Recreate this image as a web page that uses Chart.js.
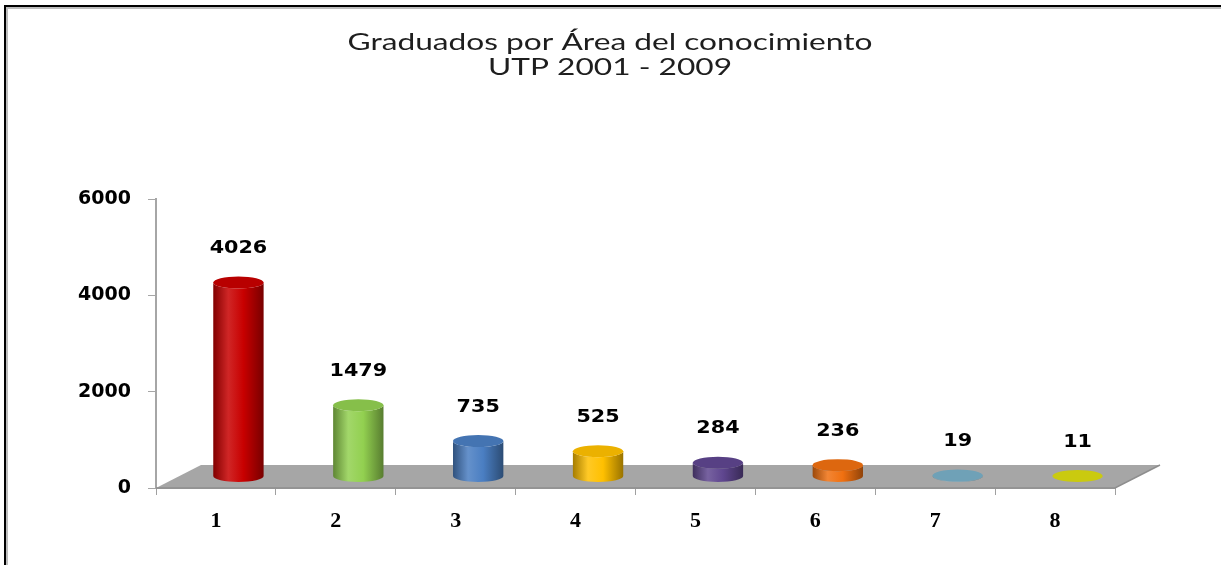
<!DOCTYPE html>
<html>
<head>
<meta charset="utf-8">
<title>Graduados por Área del conocimiento</title>
<script src="https://cdn.jsdelivr.net/npm/chart.js@4.4.1/dist/chart.umd.min.js"></script>
<style>
  html, body { margin: 0; padding: 0; background: #fff; overflow: hidden; }
  #marco { position: absolute; left: 0; top: 0; width: 1221px; height: 565px; }
  #marco canvas { position: absolute; left: 0; top: 0; }
  #borde {
    position: absolute; left: 4px; top: 5px; width: 1300px; height: 700px;
    border-top: 2px solid #000; border-left: 2px solid #000;
    box-shadow: inset 2px 2px 0 #bdbdbd;
  }
</style>
</head>
<body>
<div id="marco">
  <canvas id="grafico" width="1221" height="565"></canvas>
  <div id="borde"></div>
</div>
<script>
// Datos del gráfico
const categorias = ['1', '2', '3', '4', '5', '6', '7', '8'];
const graduados = [4026, 1479, 735, 525, 284, 236, 19, 11];
const ticksY = [0, 2000, 4000, 6000];
const titulo = ['Graduados por Área del conocimiento', 'UTP 2001 - 2009'];

// Colores de cada cilindro
const colores = ['#c80000', '#92d050', '#4a7ec2', '#ffc000', '#5f468f', '#f07010', '#79afc7', '#dcdc10'];

// profundidad del "piso" 3D
const PISO_DX = 45;
const PISO_DY = 23;

function tono(hex, f) {
  const n = parseInt(hex.slice(1), 16);
  let r = (n >> 16) & 255, g = (n >> 8) & 255, b = n & 255;
  if (f >= 0) {
    r += (255 - r) * f; g += (255 - g) * f; b += (255 - b) * f;
  } else {
    r *= 1 + f; g *= 1 + f; b *= 1 + f;
  }
  return `rgb(${Math.round(r)},${Math.round(g)},${Math.round(b)})`;
}

// texto "estirado" a lo ancho, como en la imagen original
function textoAncho(ctx, texto, x, y, sx) {
  ctx.save();
  ctx.translate(x, y);
  ctx.scale(sx, 1);
  ctx.fillText(texto, 0, 0);
  ctx.restore();
}

const tituloEstirado = {
  id: 'tituloEstirado',
  afterDraw(chart) {
    const { ctx } = chart;
    ctx.save();
    ctx.fillStyle = '#1e1e1e';
    ctx.font = '23px Lato';
    ctx.textAlign = 'center';
    ctx.textBaseline = 'middle';
    const sx = 525 / ctx.measureText(titulo[0]).width;
    titulo.forEach((linea, i) => textoAncho(ctx, linea, 610, 43 + i * 25, sx));
    ctx.restore();
  }
};

const cilindros3d = {
  id: 'cilindros3d',
  beforeDatasetsDraw(chart) {
    const { ctx, chartArea } = chart;
    const { left, right, bottom } = chartArea;
    ctx.save();
    ctx.fillStyle = '#a6a6a6';
    ctx.beginPath();
    ctx.moveTo(left, bottom);
    ctx.lineTo(right, bottom);
    ctx.lineTo(right + PISO_DX, bottom - PISO_DY);
    ctx.lineTo(left + PISO_DX, bottom - PISO_DY);
    ctx.closePath();
    ctx.fill();
    ctx.strokeStyle = '#8e8e8e';
    ctx.lineWidth = 1.5;
    ctx.beginPath();
    ctx.moveTo(left, bottom);
    ctx.lineTo(right, bottom);
    ctx.lineTo(right + PISO_DX, bottom - PISO_DY);
    ctx.stroke();
    ctx.restore();
  },
  afterDatasetsDraw(chart) {
    const { ctx } = chart;
    const meta = chart.getDatasetMeta(0);
    ctx.save();
    meta.data.forEach((el, i) => {
      const base = colores[i];
      const cx = el.x + PISO_DX / 2;
      const rx = el.width / 2;
      const ry = 6;
      const yTop = el.y - PISO_DY / 2;
      const yBot = el.base - PISO_DY / 2;

      const grad = ctx.createLinearGradient(cx - rx, 0, cx + rx, 0);
      grad.addColorStop(0, tono(base, -0.35));
      grad.addColorStop(0.3, tono(base, 0.15));
      grad.addColorStop(0.6, base);
      grad.addColorStop(1, tono(base, -0.4));

      ctx.fillStyle = grad;
      ctx.beginPath();
      ctx.moveTo(cx - rx, yTop);
      ctx.lineTo(cx - rx, yBot);
      ctx.ellipse(cx, yBot, rx, ry, 0, Math.PI, 0, true);
      ctx.lineTo(cx + rx, yTop);
      ctx.ellipse(cx, yTop, rx, ry, 0, 0, Math.PI, false);
      ctx.closePath();
      ctx.fill();

      // tapa superior
      ctx.fillStyle = tono(base, -0.08);
      ctx.beginPath();
      ctx.ellipse(cx, yTop, rx, ry, 0, 0, Math.PI * 2);
      ctx.fill();

      // etiqueta con el valor
      ctx.fillStyle = '#000';
      ctx.font = 'bold 18px "DejaVu Sans"';
      ctx.textAlign = 'center';
      ctx.textBaseline = 'middle';
      textoAncho(ctx, String(graduados[i]), cx, yTop - 34, 1.15);
    });
    ctx.restore();
  }
};

const ctx = document.getElementById('grafico').getContext('2d');
new Chart(ctx, {
  type: 'bar',
  data: {
    labels: categorias,
    datasets: [{
      label: 'Graduados',
      data: graduados,
      backgroundColor: 'rgba(0,0,0,0)',
      borderWidth: 0,
      categoryPercentage: 0.42,
      barPercentage: 1
    }]
  },
  options: {
    responsive: false,
    animation: false,
    layout: { padding: { left: 0, right: 106, top: 199, bottom: 0 } },
    plugins: {
      legend: { display: false },
      tooltip: { enabled: false },
      title: { display: false }
    },
    scales: {
      x: {
        afterFit: scale => { scale.height = 77; },
        grid: { display: true, drawOnChartArea: false, drawTicks: true, tickLength: 7, color: '#a0a0a0', offset: true },
        border: { display: true, color: '#a0a0a0' },
        ticks: {
          color: '#000',
          padding: 13,
          font: { family: '"Liberation Serif"', size: 22, weight: 'bold' }
        }
      },
      y: {
        min: 0,
        max: 6000,
        afterFit: scale => { scale.width = 156; },
        afterBuildTicks: scale => { scale.ticks = ticksY.map(v => ({ value: v })); },
        grid: { display: true, drawOnChartArea: false, drawTicks: true, tickLength: 8, color: '#a6a6a6' },
        border: { display: true, color: '#a6a6a6', width: 2 },
        ticks: {
          color: '#000',
          padding: 17,
          callback: v => String(v),
          font: { family: '"DejaVu Sans"', size: 19, weight: 'bold' }
        }
      }
    }
  },
  plugins: [cilindros3d, tituloEstirado]
});
</script>
</body>
</html>
